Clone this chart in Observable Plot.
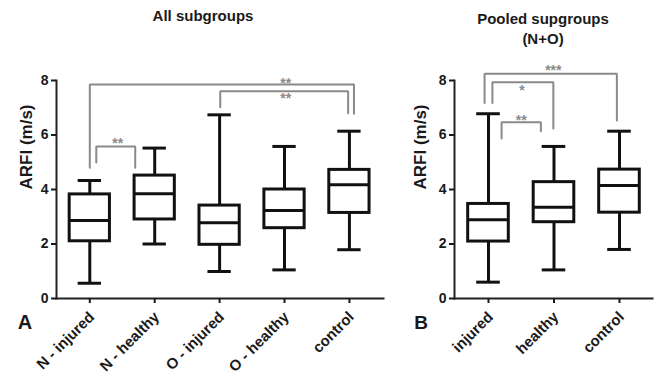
<!DOCTYPE html>
<html><head><meta charset="utf-8">
<script src="https://cdn.jsdelivr.net/npm/d3@7"></script>
<script src="https://cdn.jsdelivr.net/npm/@observablehq/plot@0.6"></script>
<style>
body{margin:0;background:#fff;font-family:"Liberation Sans",Arial,sans-serif;}
#wrap{position:relative;width:657px;height:378px;overflow:hidden;background:#fff;}
.panel{position:absolute;top:0;}
.lbl{position:absolute;font-weight:bold;color:#1a1a1a;white-space:nowrap;transform:translate(-50%,-50%);line-height:1;}
</style></head><body>
<div id="wrap">
  <div id="pa" class="panel" style="left:0"></div>
  <div id="pb" class="panel" style="left:400px"></div>
  <div class="lbl" style="left:203px;top:15px;font-size:15px">All subgroups</div>
  <div class="lbl" style="left:543px;top:18px;font-size:15px">Pooled supgroups</div>
  <div class="lbl" style="left:543px;top:38px;font-size:15px">(N+O)</div>
  <div class="lbl" style="left:25px;top:322px;font-size:20px">A</div>
  <div class="lbl" style="left:421px;top:322px;font-size:19px">B</div>
</div>
<script>
// ---- Panel A: all subgroups ----
const catsA = ["N - injured", "N - healthy", "O - injured", "O - healthy", "control"];
const minA  = [0.56, 2.00, 0.99, 1.05, 1.79];
const q1A   = [2.10, 2.90, 1.97, 2.58, 3.14];
const medA  = [2.86, 3.84, 2.78, 3.23, 4.17];
const q3A   = [3.82, 4.51, 3.41, 4.00, 4.72];
const maxA  = [4.33, 5.52, 6.74, 5.58, 6.14];

// ---- Panel B: pooled subgroups (N+O) ----
const catsB = ["injured", "healthy", "control"];
const minB  = [0.60, 1.05, 1.80];
const q1B   = [2.09, 2.80, 3.15];
const medB  = [2.89, 3.35, 4.15];
const q3B   = [3.47, 4.27, 4.73];
const maxB  = [6.78, 5.58, 6.14];

const yTicks = [0, 2, 4, 6, 8];

// ---- significance brackets (category-index positions, values in m/s) ----
const brA_from   = [0.00, 2.01, 0.10];
const brA_to     = [4.07, 3.98, 0.70];
const brA_top    = [7.85, 7.61, 5.58];
const brA_leftY  = [4.80, 7.02, 4.99];
const brA_rightY = [6.78, 6.80, 4.80];
const brA_text   = ["**", "**", "**"];
const brA_textX  = [3.02, 3.02, 0.43];
const brA_textY  = [8.00, 7.45, 5.82];

const brB_from   = [-0.06, 0.06, 0.20];
const brB_to     = [1.96, 0.99, 0.80];
const brB_top    = [8.25, 7.94, 6.47];
const brB_leftY  = [7.17, 7.17, 5.87];
const brB_rightY = [6.53, 6.24, 6.14];
const brB_text   = ["***", "*", "**"];
const brB_textX  = [0.99, 0.51, 0.50];
const brB_textY  = [8.48, 7.76, 6.65];

const BOX = 0.31, CAP = 0.18;
const INK = "#111", GREY = "#8a8a8a";
const FONT = "'Liberation Sans', Arial, sans-serif";

function panel(cfg) {
  const rows = cfg.cats.map((c, i) => ({i, c, min: cfg.mn[i], q1: cfg.q1[i], med: cfg.md[i], q3: cfg.q3[i], max: cfg.mx[i]}));
  const pts = [];
  cfg.bFrom.forEach((x1, k) => {
    const x2 = cfg.bTo[k];
    pts.push({k, x: x1, y: cfg.bLeft[k]}, {k, x: x1, y: cfg.bTop[k]},
             {k, x: x2, y: cfg.bTop[k]}, {k, x: x2, y: cfg.bRight[k]});
  });
  const labs = cfg.bText.map((t, k) => ({t, x: cfg.bTextX[k], y: cfg.bTextY[k]}));
  const idx = rows.map(d => d.i);
  return Plot.plot({
    width: cfg.width, height: 378,
    marginTop: 80, marginBottom: 80, marginLeft: cfg.ml, marginRight: cfg.mr,
    x: {domain: cfg.xdom, axis: null},
    y: {domain: [0, 8], axis: null},
    style: {fontFamily: FONT, color: "#1a1a1a", background: "transparent", overflow: "visible"},
    marks: [
      Plot.line(pts, {x: "x", y: "y", z: "k", stroke: GREY, strokeWidth: 2, strokeLinejoin: "miter"}),
      Plot.text(labs, {x: "x", y: "y", text: "t", fill: GREY, fontSize: 14, fontWeight: "bold", dy: 3.5}),
      Plot.ruleX(rows, {x: "i", y1: "q3", y2: "max", stroke: INK, strokeWidth: 3}),
      Plot.ruleX(rows, {x: "i", y1: "min", y2: "q1", stroke: INK, strokeWidth: 3}),
      Plot.ruleY(rows, {y: "max", x1: d => d.i - CAP, x2: d => d.i + CAP, stroke: INK, strokeWidth: 3}),
      Plot.ruleY(rows, {y: "min", x1: d => d.i - CAP, x2: d => d.i + CAP, stroke: INK, strokeWidth: 3}),
      Plot.rect(rows, {x1: d => d.i - BOX, x2: d => d.i + BOX, y1: "q1", y2: "q3", fill: "white", stroke: INK, strokeWidth: 3}),
      Plot.ruleY(rows, {y: "med", x1: d => d.i - BOX, x2: d => d.i + BOX, stroke: INK, strokeWidth: 3}),
      Plot.frame({anchor: "left", stroke: "#222", strokeWidth: 2}),
      Plot.frame({anchor: "bottom", stroke: "#222", strokeWidth: 2}),
      Plot.axisY({ticks: yTicks, tickSize: 5, tickPadding: 3, fontSize: 14, fontWeight: "bold", strokeWidth: 2, label: null}),
      Plot.axisX({ticks: idx, tickFormat: () => "", tickSize: 5, strokeWidth: 2, label: null}),
      Plot.axisX({ticks: idx, tickFormat: i => cfg.cats[i], tickRotate: -45, tickSize: 0, tickPadding: 3,
                  dx: 2, dy: 13, fontSize: 15, fontWeight: "bold", label: null}),
      Plot.text(["ARFI (m/s)"], {frameAnchor: "left", rotate: -90, dx: cfg.ylabDx, fontSize: 17, fontWeight: "bold", fill: "#1a1a1a"})
    ]
  });
}

document.getElementById("pa").appendChild(panel({
  cats: catsA, mn: minA, q1: q1A, md: medA, q3: q3A, mx: maxA,
  bFrom: brA_from, bTo: brA_to, bTop: brA_top, bLeft: brA_leftY, bRight: brA_rightY,
  bText: brA_text, bTextX: brA_textX, bTextY: brA_textY,
  width: 400, ml: 56, mr: 17, xdom: [-0.513, 4.525], ylabDx: -30
}));
document.getElementById("pb").appendChild(panel({
  cats: catsB, mn: minB, q1: q1B, md: medB, q3: q3B, mx: maxB,
  bFrom: brB_from, bTo: brB_to, bTop: brB_top, bLeft: brB_leftY, bRight: brB_rightY,
  bText: brB_text, bTextX: brB_textX, bTextY: brB_textY,
  width: 257, ml: 54, mr: 5, xdom: [-0.519, 2.504], ylabDx: -34
}));
</script>
</body></html>
